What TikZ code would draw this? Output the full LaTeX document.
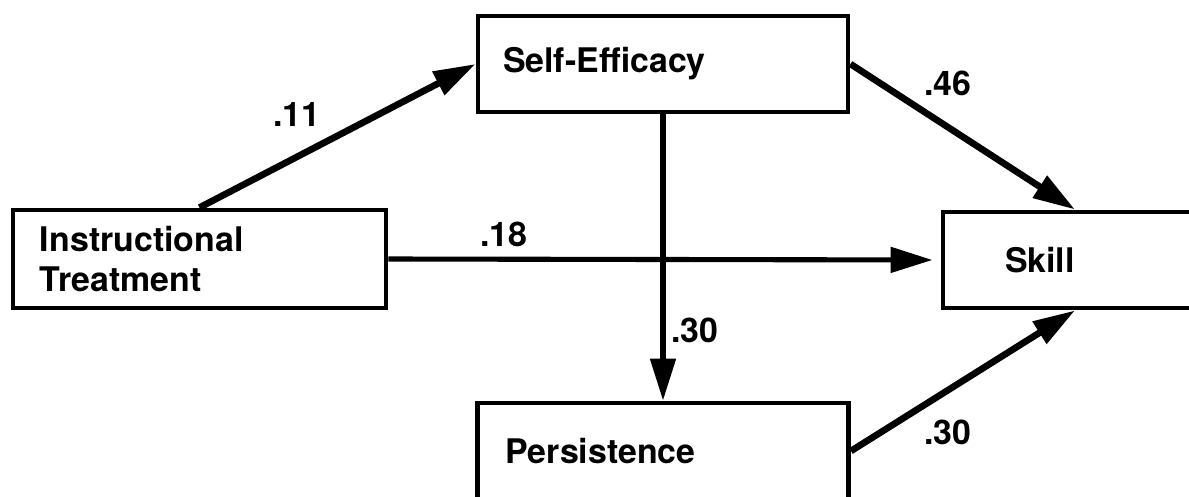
\documentclass[tikz,border=0pt]{standalone}
\usepackage{fontspec}
\setmainfont{TeX Gyre Heros}
\usetikzlibrary{arrows.meta,positioning}
\tikzstyle{every node}+=[inner sep=0pt,font=\bfseries\fontsize{19.3}{22.8}\selectfont]
\tikzstyle{box}=[rectangle,draw,line width=2.8pt,minimum height=19.2mm,align=left]
\tikzstyle{link}=[line width=3.8pt,-{Triangle[length=8.4mm,width=5mm]}]

\begin{document}
\begin{tikzpicture}[x=0.2mm,y=-0.2mm]
\clip (0,0) rectangle (1189,497);

\node[box,minimum height=19.6mm,text width=63.8mm,inner xsep=5.4mm] (it) at (199.5,259) {Instructional\\Treatment};
\node[box,text width=64mm,inner xsep=5mm] (se) at (663,64) {Self-Efficacy};
\node[box,text width=28mm,inner xsep=12.4mm] (sk) at (1075,260) {Skill};
\node[box,text width=63mm,inner xsep=5.6mm] (pe) at (663,451) {Persistence};

\node (w11) at (297,114) {.11};
\node (w18) at (504,234) {.18};
\node (w46) at (948,83) {.46};
\node (w30a) at (695,330) {.30};
\node (w30b) at (948,432) {.30};

\draw[link] (it.north) -- (se.west);
\draw[link] (se.east) -- (sk.north);
\draw[link,line width=2.9pt,shorten >=1.6mm] (it.east) -- (sk.west);
\draw[link,line width=2.9pt] (se.south) -- (pe.north);
\draw[link] (pe.east) -- (sk.south);
\end{tikzpicture}
\end{document}
